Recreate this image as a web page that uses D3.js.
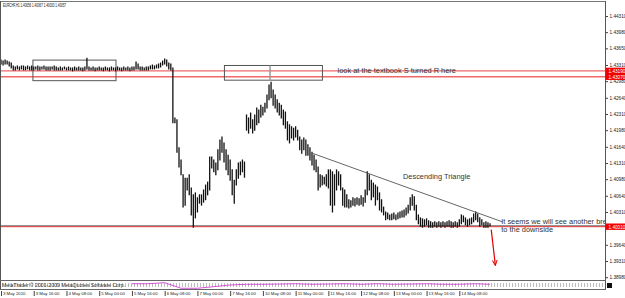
<!DOCTYPE html>
<html>
<head>
<meta charset="utf-8">
<script src="https://cdn.jsdelivr.net/npm/d3@7"></script>
<style>
  html, body { margin: 0; padding: 0; background: #fff; }
  svg { display: block; font-family: "Liberation Sans", Arial, sans-serif; }
</style>
</head>
<body>
<script>
const width = 625;
const height = 298;

const headerText = 'EURCHF,H1 1.40056 1.40067 1.40030 1.40057';
const copyrightText = 'MetaTrader \u00a9 2001-2009 MetaQuotes Software Corp.';

// hourly bar highs, 3 May 00:00 .. 14 May 23:00, one row per trading day
const highs = [
  1.4341,1.4339,1.4341,1.4339,1.4337,1.4335,1.4329,1.4327,1.4329,1.4327,1.4329,1.4329,1.4327,1.4329,1.4327,1.4329,1.4327,1.4327,1.4329,1.4327,1.4327,1.4329,1.4327,1.4327,
  1.4327,1.4327,1.4329,1.4327,1.4325,1.4327,1.4325,1.4327,1.4325,1.4327,1.4325,1.4325,1.4327,1.4325,1.4327,1.4325,1.4325,1.4327,1.4345,1.4327,1.4325,1.4327,1.4325,1.4325,
  1.4327,1.4325,1.4325,1.4327,1.4325,1.4325,1.4327,1.4325,1.4325,1.4327,1.4325,1.4325,1.4327,1.4325,1.4327,1.4325,1.4327,1.4327,1.4337,1.4333,1.4327,1.4327,1.4325,1.4327,
  1.4327,1.4329,1.4331,1.4329,1.4331,1.4333,1.4335,1.4339,1.4343,1.4341,1.4335,1.4333,1.4325,1.4223,1.4219,1.4162,1.4137,1.4107,1.4100,1.4100,1.4107,1.4080,1.4066,1.4070,
  1.4060,1.4066,1.4066,1.4076,1.4086,1.4092,1.4143,1.4143,1.4137,1.4131,1.4158,1.4178,1.4184,1.4172,1.4158,1.4147,1.4137,1.4117,1.4096,1.4117,1.4131,1.4133,1.4137,1.4133,
  1.4229,1.4223,1.4233,1.4219,1.4229,1.4243,1.4239,1.4249,1.4245,1.4253,1.4270,1.4290,1.4296,1.4280,1.4270,1.4260,1.4253,1.4249,1.4239,1.4235,1.4215,1.4209,1.4205,1.4202,
  1.4205,1.4198,1.4184,1.4178,1.4182,1.4178,1.4168,1.4162,1.4153,1.4147,1.4137,1.4123,1.4107,1.4105,1.4102,1.4107,1.4117,1.4117,1.4113,1.4107,1.4117,1.4113,1.4107,1.4080,
  1.4076,1.4066,1.4056,1.4054,1.4060,1.4058,1.4060,1.4058,1.4064,1.4060,1.4076,1.4113,1.4107,1.4096,1.4090,1.4086,1.4082,1.4070,1.4056,1.4041,1.4031,1.4029,1.4025,1.4027,
  1.4029,1.4025,1.4029,1.4031,1.4033,1.4035,1.4039,1.4045,1.4060,1.4066,1.4062,1.4045,1.4025,1.4019,1.4017,1.4015,1.4017,1.4013,1.4011,1.4009,1.4011,1.4009,1.4011,1.4009,
  1.4011,1.4009,1.4011,1.4013,1.4011,1.4009,1.4011,1.4009,1.4015,1.4025,1.4023,1.4019,1.4015,1.4017,1.4019,1.4027,1.4031,1.4027,1.4019,1.4015,1.4009,1.4011,1.4009,1.4007
];

const lows = [
  1.4333,1.4331,1.4333,1.4333,1.4329,1.4325,1.4321,1.4321,1.4323,1.4321,1.4323,1.4321,1.4321,1.4323,1.4321,1.4321,1.4321,1.4323,1.4321,1.4321,1.4323,1.4323,1.4321,1.4321,
  1.4321,1.4323,1.4321,1.4321,1.4321,1.4321,1.4321,1.4323,1.4321,1.4321,1.4321,1.4319,1.4321,1.4321,1.4321,1.4321,1.4319,1.4321,1.4323,1.4321,1.4321,1.4321,1.4319,1.4321,
  1.4321,1.4321,1.4319,1.4321,1.4321,1.4319,1.4321,1.4321,1.4319,1.4321,1.4321,1.4319,1.4321,1.4321,1.4321,1.4319,1.4321,1.4321,1.4323,1.4323,1.4321,1.4321,1.4321,1.4321,
  1.4321,1.4323,1.4323,1.4323,1.4325,1.4325,1.4327,1.4331,1.4333,1.4329,1.4323,1.4321,1.4213,1.4213,1.4153,1.4123,1.4107,1.4041,1.4045,1.4076,1.4066,1.4025,1.4000,1.4019,
  1.4031,1.4049,1.4045,1.4051,1.4056,1.4066,1.4076,1.4121,1.4113,1.4107,1.4117,1.4137,1.4153,1.4133,1.4117,1.4107,1.4096,1.4066,1.4049,1.4086,1.4100,1.4107,1.4113,1.4102,
  1.4198,1.4192,1.4202,1.4192,1.4198,1.4209,1.4213,1.4225,1.4229,1.4235,1.4243,1.4260,1.4264,1.4249,1.4243,1.4235,1.4229,1.4223,1.4209,1.4202,1.4178,1.4172,1.4182,1.4178,
  1.4184,1.4178,1.4158,1.4151,1.4158,1.4147,1.4147,1.4137,1.4127,1.4117,1.4113,1.4076,1.4082,1.4086,1.4088,1.4084,1.4080,1.4045,1.4031,1.4045,1.4076,1.4086,1.4076,1.4045,
  1.4041,1.4041,1.4039,1.4041,1.4045,1.4043,1.4047,1.4045,1.4047,1.4043,1.4051,1.4066,1.4076,1.4056,1.4062,1.4045,1.4056,1.4035,1.4031,1.4025,1.4015,1.4017,1.4015,1.4015,
  1.4017,1.4015,1.4017,1.4019,1.4021,1.4021,1.4025,1.4029,1.4035,1.4045,1.4035,1.4015,1.4007,1.4002,1.4000,1.4002,1.4005,1.4000,1.4000,1.4000,1.4002,1.4000,1.4002,1.4000,
  1.4002,1.4000,1.4002,1.4002,1.4000,1.4000,1.4002,1.4000,1.4002,1.4007,1.4011,1.4005,1.4002,1.4005,1.4007,1.4011,1.4015,1.4011,1.4002,1.4005,1.4000,1.4000,1.4000,1.4003
];

const priceTicks = [1.4431, 1.4398, 1.4365, 1.4331, 1.4298, 1.4264, 1.4231, 1.4198,
  1.4164, 1.4131, 1.4098, 1.4064, 1.4031, 1.3964, 1.3931, 1.3898];

const timeTickBars = [0, 16, 32, 48, 64, 80, 96, 112, 128, 144, 160, 176, 192, 208, 224];
const timeTickLabels = ['3 May 2010', '3 May 16:00', '4 May 08:00', '5 May 00:00', '5 May 16:00',
  '6 May 08:00', '7 May 00:00', '7 May 16:00', '10 May 08:00', '11 May 00:00', '11 May 16:00',
  '12 May 08:00', '13 May 00:00', '13 May 16:00', '14 May 08:00'];

// lower sub-window line (magenta), read roughly off the strip, 0..100
const indicatorBars = [64, 72, 80, 88, 96, 104, 112, 120, 128, 136, 144, 152, 160, 168, 176,
  184, 192, 200, 208, 216, 224, 232, 239];
const indicatorValues = [66, 66, 79, 9, 9, 29, 50, 59, 59, 62, 66, 59, 62, 66, 59,
  66, 59, 62, 66, 59, 59, 66, 59];

// user drawn objects on the chart
const redLevels = [1.4319, 1.4307];
const supportLevel = 1.4003;
const bidLevel = 1.4001;
const boxes = [
  { b0: 15.6, b1: 56.2, p0: 1.4341, p1: 1.4299 },
  { b0: 109.2, b1: 157.1, p0: 1.4330, p1: 1.4300 }
];
const boxDivider = { b: 131.5, p0: 1.4330, p1: 1.4300 };
const triangleLine = [{ b: 152.1, p: 1.4151 }, { b: 245, p: 1.4011 }];
const arrowLine = [{ b: 239.6, p: 1.3995 }, { b: 241.6, p: 1.3923 }];

const notes = [
  { text: 'look at the textbook S turned R here', b: 164.5, p: 1.4315 },
  { text: 'Descending Triangle', b: 196.5, p: 1.4099 },
  { text: 'It seems we will see another breakout', b: 244.5, p: 1.4007 },
  { text: 'to the downside', b: 244.5, p: 1.3991 }
];

const x = d3.scaleLinear().domain([0, 239]).range([1, 490]);
const y = d3.scaleLinear().domain([1.38922, 1.44616]).range([280, 1]);
const yInd = d3.scaleLinear().domain([0, 100]).range([289, 281]);

const svg = d3.select('body').append('svg')
  .attr('width', width)
  .attr('height', height);

svg.append('defs').append('clipPath').attr('id', 'plot')
  .append('rect').attr('x', 1).attr('y', 2).attr('width', 604).attr('height', 278);

svg.append('defs').append('marker')
    .attr('id', 'arrow')
    .attr('viewBox', '0 0 10 10')
    .attr('refX', 8).attr('refY', 5)
    .attr('markerWidth', 5).attr('markerHeight', 5)
    .attr('orient', 'auto')
  .append('path')
    .attr('d', 'M0,1 L9,5 L0,9')
    .attr('fill', 'none')
    .attr('stroke', '#e00000')
    .attr('stroke-width', 1.6);

const plot = svg.append('g').attr('clip-path', 'url(#plot)');

// horizontal levels
plot.selectAll('.red-level')
  .data(redLevels)
  .join('line')
    .attr('x1', 0).attr('x2', 605)
    .attr('y1', (d) => y(d)).attr('y2', (d) => y(d))
    .attr('stroke', '#f06868')
    .attr('stroke-width', 1.3);

plot.append('line')
  .attr('x1', 0).attr('x2', 605)
  .attr('y1', y(supportLevel)).attr('y2', y(supportLevel))
  .attr('stroke', '#777')
  .attr('stroke-width', 1);

plot.append('line')
  .attr('x1', 0).attr('x2', 605)
  .attr('y1', y(bidLevel)).attr('y2', y(bidLevel))
  .attr('stroke', '#e03030')
  .attr('stroke-width', 1);

// boxes
plot.selectAll('.box')
  .data(boxes)
  .join('rect')
    .attr('x', (d) => x(d.b0))
    .attr('y', (d) => y(d.p0))
    .attr('width', (d) => x(d.b1) - x(d.b0))
    .attr('height', (d) => y(d.p1) - y(d.p0))
    .attr('fill', 'none')
    .attr('stroke', '#555')
    .attr('stroke-width', 1);

plot.append('line')
  .attr('x1', x(boxDivider.b)).attr('x2', x(boxDivider.b))
  .attr('y1', y(boxDivider.p0)).attr('y2', y(boxDivider.p1))
  .attr('stroke', '#999')
  .attr('stroke-width', 1.5);

// price bars
plot.selectAll('.bar')
  .data(highs)
  .join('line')
    .attr('x1', (d, i) => x(i)).attr('x2', (d, i) => x(i))
    .attr('y1', (d) => y(d) - 0.5)
    .attr('y2', (d, i) => y(lows[i]) + 0.5)
    .attr('stroke', '#111')
    .attr('stroke-width', 1.3);

// trend line
plot.append('line')
  .attr('x1', x(triangleLine[0].b)).attr('y1', y(triangleLine[0].p))
  .attr('x2', x(triangleLine[1].b)).attr('y2', y(triangleLine[1].p))
  .attr('stroke', '#555')
  .attr('stroke-width', 0.9);

plot.append('line')
  .attr('x1', x(arrowLine[0].b)).attr('y1', y(arrowLine[0].p))
  .attr('x2', x(arrowLine[1].b)).attr('y2', y(arrowLine[1].p))
  .attr('stroke', '#e00000')
  .attr('stroke-width', 1.2)
  .attr('marker-end', 'url(#arrow)');

plot.selectAll('.note')
  .data(notes)
  .join('text')
    .attr('x', (d) => x(d.b))
    .attr('y', (d) => y(d.p))
    .attr('font-size', 7.4)
    .attr('fill', '#333')
    .text((d) => d.text);

// header
svg.append('text')
  .attr('x', 3).attr('y', 7)
  .attr('font-size', 4.6)
  .attr('textLength', 63)
  .attr('lengthAdjust', 'spacingAndGlyphs')
  .attr('fill', '#111')
  .text(headerText);

// frame
svg.append('line').attr('x1', 0).attr('x2', 605).attr('y1', 1.5).attr('y2', 1.5)
  .attr('stroke', '#777').attr('stroke-width', 1);
svg.append('line').attr('x1', 0.5).attr('x2', 0.5).attr('y1', 1).attr('y2', 289)
  .attr('stroke', '#555').attr('stroke-width', 1);
svg.append('line').attr('x1', 605.5).attr('x2', 605.5).attr('y1', 1).attr('y2', 290)
  .attr('stroke', '#555').attr('stroke-width', 1);
svg.append('line').attr('x1', 0).attr('x2', 606).attr('y1', 280.5).attr('y2', 280.5)
  .attr('stroke', '#666').attr('stroke-width', 1);
svg.append('line').attr('x1', 0).attr('x2', 606).attr('y1', 289.5).attr('y2', 289.5)
  .attr('stroke', '#666').attr('stroke-width', 1);

// sub-window strip
svg.append('line')
  .attr('x1', 2).attr('x2', 605)
  .attr('y1', 285).attr('y2', 285)
  .attr('stroke', '#aaa')
  .attr('stroke-width', 4)
  .attr('stroke-dasharray', '0.8,2.2');

svg.append('path')
  .datum(indicatorValues)
  .attr('d', d3.line().x((d, i) => x(indicatorBars[i])).y((d) => yInd(d)))
  .attr('fill', 'none')
  .attr('stroke', '#d040d0')
  .attr('stroke-width', 0.9);

svg.append('text')
  .attr('x', 2).attr('y', 286.5)
  .attr('font-size', 4.8)
  .attr('textLength', 123)
  .attr('lengthAdjust', 'spacingAndGlyphs')
  .attr('fill', '#333')
  .text(copyrightText);

svg.append('rect')
  .attr('x', 607).attr('y', 283).attr('width', 5).attr('height', 5)
  .attr('fill', '#111');

// price axis
const yAxis = svg.append('g')
  .attr('transform', 'translate(605.5,0)')
  .call(d3.axisRight(y).tickValues(priceTicks).tickSize(2.5).tickPadding(1.5)
    .tickFormat(d3.format('.5f')));
yAxis.select('.domain').remove();
yAxis.selectAll('text').attr('font-size', 4.7).attr('fill', '#222')
  .attr('font-family', '"Liberation Sans", Arial, sans-serif');
yAxis.selectAll('line').attr('stroke', '#444');

// red price labels
const priceLabels = redLevels.concat([bidLevel]);
const tags = svg.selectAll('.tag')
  .data(priceLabels)
  .join('g')
    .attr('transform', (d) => `translate(606,${y(d)})`);
tags.append('rect')
  .attr('x', 0).attr('y', -3.2).attr('width', 19).attr('height', 6.4)
  .attr('fill', '#f00000');
tags.append('text')
  .attr('x', 2.5).attr('y', 1.8)
  .attr('font-size', 4.7)
  .attr('fill', '#fff')
  .text((d) => d3.format('.5f')(d));

// time axis
const xAxis = svg.append('g')
  .attr('transform', 'translate(0,290)')
  .call(d3.axisBottom(x).tickValues(timeTickBars).tickSize(5)
    .tickFormat((d, i) => timeTickLabels[i]));
xAxis.select('.domain').remove();
xAxis.selectAll('line').attr('stroke', '#444').attr('transform', 'translate(0,1)');
xAxis.selectAll('text')
  .attr('text-anchor', 'start')
  .attr('x', 1.5)
  .attr('y', 2)
  .attr('font-size', 4.3)
  .attr('fill', '#222')
  .attr('font-family', '"Liberation Sans", Arial, sans-serif');
</script>
</body>
</html>
